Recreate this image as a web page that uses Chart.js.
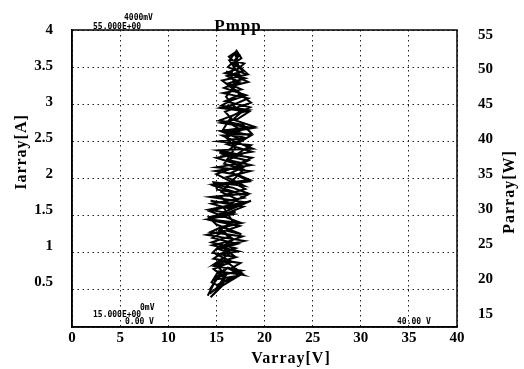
<!DOCTYPE html>
<html>
<head>
<meta charset="utf-8">
<script src="https://cdn.jsdelivr.net/npm/chart.js@4.4.1/dist/chart.umd.min.js"></script>
<style>
  html, body { margin: 0; padding: 0; background: #fff; }
</style>
</head>
<body>
<canvas id="Pmpp-graph" width="524" height="369"></canvas>
<script>
// Varray [V] and Iarray [A] of the MPP trace
// (five passes: up, down, up, down, up)
const varray = [
  14.1, 14.8, 14.3, 15.4, 14.6, 16.2, 17.4, 15.8, 14.8, 16.5, 15.2, 17.2, 14.6, 16.0, 17.6, 15.0, 14.2, 17.0, 15.5, 17.8,
  14.4, 16.3, 18.2, 15.1, 14.7, 17.9, 16.1, 18.5, 15.0, 17.4, 18.7, 15.3, 16.8, 18.6, 15.2, 17.9, 16.0, 18.8, 15.5, 17.2,
  18.4, 15.4, 16.9, 18.3, 15.7, 17.6, 16.2, 18.0, 15.9, 17.3, 17.9, 16.4, 17.1, 17.6, 16.8,
  17.8, 16.1, 17.4, 15.8, 18.1, 16.5, 15.5, 18.4, 16.7, 15.3, 17.8, 18.7, 15.6, 16.9, 18.8, 15.2, 17.5, 16.2, 18.6, 14.9,
  17.2, 18.5, 14.7, 16.6, 18.3, 14.4, 15.9, 17.9, 14.2, 16.8, 14.1, 17.5, 15.6, 14.4, 17.7, 16.2, 14.6, 17.3, 15.4, 14.7,
  17.5, 16.4, 17.8, 15.2, 14.5, 15.3, 14.3,
  15.0, 16.0, 15.1, 16.9, 15.6, 16.8, 15.3, 16.7, 15.8, 17.2, 15.5, 16.9, 17.8, 15.8, 17.0, 16.0, 17.6, 16.3, 17.5, 16.0,
  17.0, 16.5, 17.2, 16.9,
  17.4, 16.2, 18.2, 15.6, 17.0, 18.6, 15.9, 16.6, 18.9, 15.4, 17.7, 16.1, 18.7, 15.0, 17.9, 16.6, 18.4, 14.8, 16.9, 17.9,
  14.5, 16.2, 18.6, 15.3, 14.3, 17.4, 16.0, 14.0, 17.9, 15.2, 14.6, 17.0, 16.0, 14.8, 17.6, 15.6, 14.9, 16.8, 15.0, 17.7,
  14.9, 15.8, 14.4,
  14.9, 15.9, 14.7, 16.6, 15.1, 17.0, 14.5, 16.4, 15.3, 17.6, 14.3, 16.5, 15.4, 18.0, 15.0, 16.7, 18.3, 15.6, 17.3, 18.6,
  15.7, 16.6, 18.5, 15.9, 17.6, 16.4, 18.3, 16.0, 17.5, 16.5, 17.8, 16.3, 17.0, 17.3
];
const iarray = [
  0.42, 0.6, 0.5, 0.72, 0.62, 0.8, 0.75, 0.9, 0.85, 1.0, 1.05, 1.12, 1.2, 1.3, 1.25, 1.38, 1.48, 1.55, 1.5, 1.62,
  1.7, 1.66, 1.78, 1.85, 1.95, 1.9, 2.02, 2.1, 2.15, 2.2, 2.28, 2.35, 2.3, 2.45, 2.5, 2.55, 2.62, 2.68, 2.75, 2.8,
  2.9, 2.95, 3.0, 3.08, 3.15, 3.2, 3.28, 3.35, 3.42, 3.48, 3.55, 3.6, 3.72, 3.62, 3.55,
  3.45, 3.38, 3.3, 3.22, 3.12, 3.05, 2.98, 2.92, 2.85, 2.78, 2.72, 2.6, 2.58, 2.5, 2.4, 2.38, 2.32, 2.25, 2.18, 2.1,
  2.05, 1.98, 1.92, 1.88, 1.8, 1.75, 1.72, 1.68, 1.58, 1.52, 1.45, 1.4, 1.35, 1.28, 1.22, 1.15, 1.1, 1.02, 0.98, 0.92,
  0.86, 0.78, 0.7, 0.75, 0.6, 0.55, 0.45,
  0.52, 0.7, 0.82, 0.95, 1.08, 1.18, 1.3, 1.42, 1.6, 1.72, 1.82, 2.0, 2.12, 2.2, 2.42, 2.55, 2.65, 2.75, 2.88, 3.1,
  3.25, 3.4, 3.6, 3.68,
  3.66, 3.5, 3.4, 3.32, 3.18, 3.02, 2.9, 2.8, 2.7, 2.64, 2.52, 2.46, 2.36, 2.28, 2.16, 2.08, 1.96, 1.9, 1.82, 1.74,
  1.66, 1.6, 1.7, 1.52, 1.44, 1.36, 1.3, 1.24, 1.16, 1.08, 1.0, 0.94, 0.9, 0.82, 0.76, 0.7, 0.64, 0.68, 0.56, 0.72,
  0.5, 0.58, 0.4,
  0.47, 0.66, 0.78, 0.88, 0.97, 1.06, 1.14, 1.22, 1.33, 1.4, 1.56, 1.64, 1.76, 1.86, 2.06, 2.14, 2.24, 2.32, 2.48, 2.58,
  2.66, 2.84, 2.96, 3.04, 3.14, 3.24, 3.3, 3.44, 3.38, 3.56, 3.46, 3.64, 3.7, 3.5
];

const vTicks = [0, 5, 10, 15, 20, 25, 30, 35, 40];
const iTicks = [0.5, 1, 1.5, 2, 2.5, 3, 3.5, 4];
const pTicks = [15, 20, 25, 30, 35, 40, 45, 50, 55];

const serif = '"Liberation Serif", "Times New Roman", serif';
const mono = '"DejaVu Sans Mono", monospace';

// texte des Oszilloskops + Achsentitel
const scopeText = {
  id: 'scopeText',
  afterDraw(chart) {
    const ctx = chart.ctx;
    const a = chart.chartArea;
    ctx.save();

    // rahmen oben / rechts
    ctx.strokeStyle = '#000';
    ctx.lineWidth = 1.5;
    ctx.strokeRect(a.left, a.top, a.right - a.left, a.bottom - a.top);

    ctx.fillStyle = '#000';
    ctx.textBaseline = 'middle';

    ctx.font = 'bold 17px ' + serif;
    ctx.textAlign = 'center';
    ctx.letterSpacing = '1px';
    ctx.fillText('Pmpp', 238, 27);

    ctx.letterSpacing = '0px';
    ctx.font = 'bold 8px ' + mono;
    ctx.textAlign = 'left';
    ctx.fillText('4000mV', 124, 18);
    ctx.fillText('55.000E+00', 93, 27);
    ctx.fillText('0mV', 140, 308);
    ctx.fillText('15.000E+00', 93, 315);
    ctx.fillText('0.00 V', 125, 322);
    ctx.fillText('40.00 V', 397, 322);

    ctx.font = 'bold 16px ' + serif;
    ctx.letterSpacing = '1px';
    ctx.textAlign = 'center';
    ctx.fillText('Varray[V]', 291, 359);

    ctx.save();
    ctx.translate(22, 152);
    ctx.rotate(-Math.PI / 2);
    ctx.fillText('Iarray[A]', 0, 0);
    ctx.restore();

    ctx.save();
    ctx.translate(510, 192);
    ctx.rotate(-Math.PI / 2);
    ctx.fillText('Parray[W]', 0, 0);
    ctx.restore();

    ctx.restore();
  }
};

const tickFont = { family: serif, size: 15, weight: 'bold' };
const dots = [1.5, 3.5];

new Chart(document.getElementById('Pmpp-graph'), {
  type: 'scatter',
  data: {
    datasets: [{
      label: 'Pmpp',
      data: varray.map((v, i) => ({ x: v, y: iarray[i] })),
      showLine: true,
      borderColor: '#000',
      borderWidth: 2,
      pointRadius: 0,
      tension: 0,
      yAxisID: 'y'
    }]
  },
  options: {
    responsive: false,
    animation: false,
    layout: { padding: { top: 15, left: 0, right: 0, bottom: 0 } },
    plugins: {
      legend: { display: false },
      tooltip: { enabled: false }
    },
    scales: {
      x: {
        type: 'linear',
        min: 0,
        max: 40,
        afterFit: (s) => { s.height = 42; },
        afterBuildTicks: (s) => { s.ticks = vTicks.map(v => ({ value: v })); },
        ticks: { font: tickFont, color: '#000', padding: 2, maxRotation: 0 },
        grid: { color: '#222', lineWidth: 1, drawTicks: false },
        border: { display: true, color: '#000', width: 1.5, dash: dots }
      },
      // Gitter- und Datenachse
      y: {
        type: 'linear',
        position: 'left',
        min: 0,
        max: 4,
        weight: 0,
        afterFit: (s) => { s.width = 0; },
        afterBuildTicks: (s) => { s.ticks = [0].concat(iTicks).map(v => ({ value: v })); },
        ticks: { display: false },
        grid: { color: '#222', lineWidth: 1, drawTicks: false },
        border: { display: true, color: '#000', width: 1.5, dash: dots }
      },
      // beschriftung links (etwas gestaucht wie im Scan)
      yl: {
        type: 'linear',
        position: 'left',
        min: -0.12,
        max: 4,
        weight: 1,
        afterFit: (s) => { s.width = 72; },
        afterBuildTicks: (s) => { s.ticks = iTicks.map(v => ({ value: v })); },
        ticks: { font: tickFont, color: '#000', padding: 19, callback: (v) => String(v) },
        grid: { display: false, drawTicks: false },
        border: { display: false }
      },
      yr: {
        type: 'linear',
        position: 'right',
        min: 13.09,
        max: 55.68,
        afterFit: (s) => { s.width = 67; },
        afterBuildTicks: (s) => { s.ticks = pTicks.map(v => ({ value: v })); },
        ticks: { font: tickFont, color: '#000', padding: 21, callback: (v) => String(v) },
        grid: { display: false, drawTicks: false },
        border: { display: false }
      }
    }
  },
  plugins: [scopeText]
});
</script>
</body>
</html>
